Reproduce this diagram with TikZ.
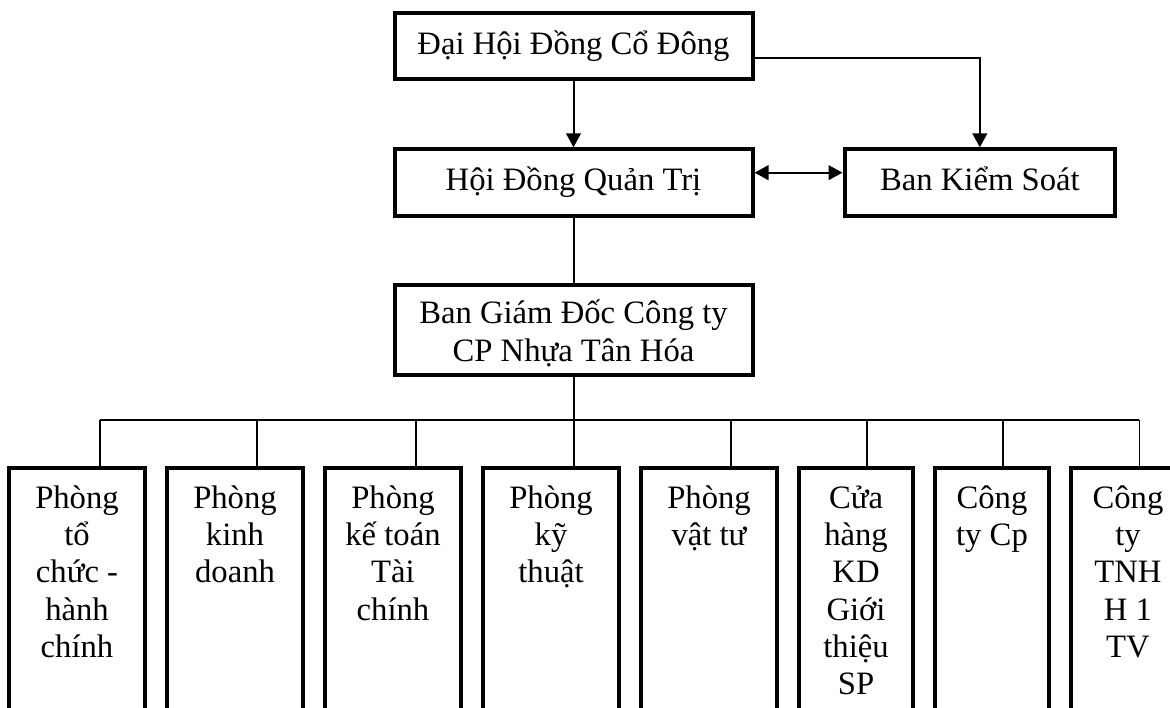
\documentclass[tikz,border=0pt]{standalone}
\usepackage{fontspec}
\setmainfont{Liberation Serif}
\usepackage{tikz}
\usetikzlibrary{positioning,arrows.meta}
\newcommand\toplines[1]{\begin{tabular}[t]{@{}c@{}}#1\end{tabular}}

\begin{document}
\begin{tikzpicture}[x=0.75pt, y=-0.75pt,
                  every node/.style={font=\fontsize{24.5pt}{28pt}\selectfont, inner sep=0pt},
                  lead/.style={draw, line width=3pt, align=center, minimum width=268.5pt, minimum height=49pt, text height=18pt, text depth=6pt},
                  dept/.style={draw, line width=3pt, minimum width=102pt, text height=30pt, text depth=190pt},
                  conn/.style={line width=1.5pt},
                  bus/.style={line width=1.1pt},
                  >={Triangle[length=10.5pt,width=11pt]}]
    \useasboundingbox (0,0) rectangle (1170,707);
    \clip (0,0) rectangle (1170,707);
    \node[lead] (dhcd) at (573.5,46) {Đại Hội Đồng Cổ Đông};
    \node[lead, minimum height=50pt] (hdqt)[below=50pt of dhcd] {Hội Đồng Quản Trị};
    \node[lead, minimum width=203pt, minimum height=50pt] (bks)[right=66pt of hdqt] {Ban Kiểm Soát};
    \node[lead, minimum height=67.5pt, text height=46pt, text depth=0pt] (bgd)[below=49pt of hdqt] {Ban Giám Đốc Công ty\\CP Nhựa Tân Hóa};
    \node[dept, anchor=north] (p1) at (77,466) {\toplines{Phòng\\tổ\\chức -\\hành\\chính}};
    \node[dept] (p2)[right=13.5pt of p1] {\toplines{Phòng\\kinh\\doanh}};
    \node[dept] (p3)[right=13.5pt of p2] {\toplines{Phòng\\kế toán\\Tài\\chính}};
    \node[dept] (p4)[right=13.5pt of p3] {\toplines{Phòng\\kỹ\\thuật}};
    \node[dept] (p5)[right=13.5pt of p4] {\toplines{Phòng\\vật tư}};
    \node[dept, minimum width=85.5pt] (p6)[right=13.5pt of p5] {\toplines{Cửa\\hàng\\KD\\Giới\\thiệu\\SP}};
    \node[dept, minimum width=85.5pt] (p7)[right=13.5pt of p6] {\toplines{Công\\ty Cp}};
    \node[dept, minimum width=85.5pt] (p8)[right=13.5pt of p7] {\toplines{Công\\ty\\TNH\\H 1\\TV}};
    \coordinate (bus) at (573,420);
    \draw[conn, ->] (dhcd) -- (hdqt);
    \draw[conn, ->] ([yshift=-9pt]dhcd.east) -| (bks);
    \draw[conn, <->] ([yshift=7.5pt]hdqt.east) -- ([yshift=7.5pt]bks.west);
    \draw[conn] (hdqt) -- (bgd);
    \draw[conn] (bgd) -- (bgd |- p4.north);
    \draw[bus] ([xshift=17.25pt]p1.north |- bus) -- ([xshift=8.5pt]p8.north |- bus);
    \foreach \n/\dx in {p1/17.25pt, p2/16.5pt, p3/17.25pt, p5/16.5pt, p6/8.25pt, p7/8.25pt, p8/8.5pt}
      \draw[bus] ([xshift=\dx]\n.north) -- ([xshift=\dx]\n.north |- bus);
  \end{tikzpicture}
\end{document}
